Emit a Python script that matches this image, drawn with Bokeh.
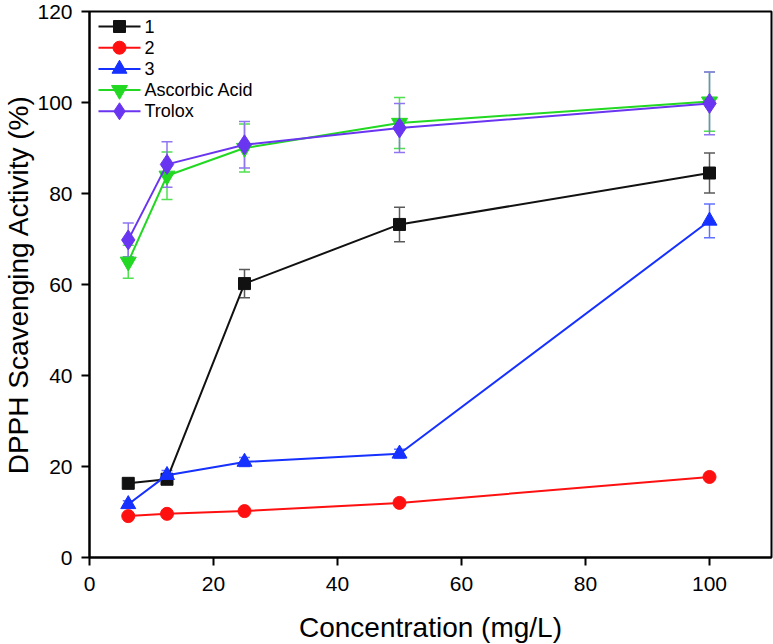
from bokeh.plotting import figure
from bokeh.models import ColumnDataSource, Whisker, TeeHead, Range1d, FixedTicker
from bokeh.core.properties import value
from bokeh.embed import file_html
from bokeh.resources import INLINE

# Concentrations (mg/L)
conc = [6.25, 12.5, 25, 50, 100]

# DPPH scavenging activity (%) with standard deviations
labels = ["1", "2", "3", "Ascorbic Acid", "Trolox"]
s1 = [16.3, 17.2, 60.2, 73.2, 84.5]
s1_err = [1.0, 1.0, 3.1, 3.8, 4.4]
s2 = [9.1, 9.6, 10.2, 12.0, 17.7]
s2_err = [0.4, 0.4, 0.4, 0.5, 0.6]
s3 = [11.7, 18.1, 21.0, 22.8, 74.0]
s3_err = [0.8, 1.0, 1.0, 1.0, 3.7]
asc = [65.0, 83.9, 90.0, 95.5, 100.2]
asc_err = [3.6, 5.2, 5.3, 5.6, 6.5]
trolox = [69.8, 86.4, 90.7, 94.4, 99.8]
trolox_err = [3.7, 5.0, 5.1, 5.4, 6.9]

x_ticks = [0, 20, 40, 60, 80, 100]
y_ticks = [0, 20, 40, 60, 80, 100, 120]

FONT = "Liberation Sans"
X_MAX, Y_MAX = 110, 120
FRAME_W, FRAME_H = 682, 546

p = figure(
    width=773, height=644,
    frame_width=FRAME_W, frame_height=FRAME_H,
    x_range=Range1d(0, X_MAX), y_range=Range1d(0, Y_MAX),
    output_backend="svg", toolbar_location=None,
    min_border_left=89, min_border_right=2,
    min_border_top=11, min_border_bottom=87,
)
p.background_fill_color = "white"
p.border_fill_color = "white"
p.xgrid.visible = False
p.ygrid.visible = False
p.outline_line_color = "black"
p.outline_line_width = 2

for ax in (p.xaxis[0], p.yaxis[0]):
    ax.axis_line_width = 2
    ax.major_tick_line_width = 2
    ax.major_tick_out = 8
    ax.major_tick_in = 0
    ax.minor_tick_line_color = None
    ax.major_label_text_font = FONT
    ax.major_label_text_font_size = "21px"
    ax.major_label_text_color = "black"
    ax.axis_label_text_font = FONT
    ax.axis_label_text_font_size = "28px"
    ax.axis_label_text_font_style = "normal"
    ax.axis_label_text_color = "black"

p.xaxis.ticker = FixedTicker(ticks=x_ticks)
p.yaxis.ticker = FixedTicker(ticks=y_ticks)
p.xaxis.axis_label = "Concentration (mg/L)"
p.yaxis.axis_label = "DPPH Scavenging Activity (%)"
p.xaxis.major_label_standoff = 11
p.yaxis.major_label_standoff = 9
p.xaxis.axis_label_standoff = 18
p.yaxis.axis_label_standoff = 0

series = [
    (s1, s1_err, "#111111", "square", 12, "#5a5a5a"),
    (s2, s2_err, "#ff1010", "circle", 13, "#ff6060"),
    (s3, s3_err, "#1530ff", "triangle", 15, "#6070ff"),
    (asc, asc_err, "#22d822", "inverted_triangle", 16, "#50e050"),
    (trolox, trolox_err, "#6a35f0", "diamond", 20, "#8f75f0"),
]

for vals, errs, color, marker, size, ecolor in series:
    src = ColumnDataSource(dict(
        x=conc, y=vals,
        upper=[v + e for v, e in zip(vals, errs)],
        lower=[v - e for v, e in zip(vals, errs)],
    ))
    w = Whisker(
        source=src, base="x", upper="upper", lower="lower",
        line_color=ecolor, line_width=1.5, level="underlay",
        upper_head=TeeHead(size=11, line_color=ecolor, line_width=1.5),
        lower_head=TeeHead(size=11, line_color=ecolor, line_width=1.5),
    )
    p.add_layout(w)
    p.line("x", "y", source=src, line_color=color, line_width=2)
    p.scatter("x", "y", source=src, marker=marker, size=size,
              fill_color=color, line_color=color)


# Legend box in the top-left corner, laid out in frame pixels
def px_to_x(px):
    return px / FRAME_W * X_MAX


def px_to_y(py):
    return Y_MAX - py / FRAME_H * Y_MAX


LEG_LEFT, LEG_GLYPH_W, LEG_TOP, LEG_ROW = 9, 42, 15, 21.2
for i, ((vals, errs, color, marker, size, ecolor), label) in enumerate(zip(series, labels)):
    yy = px_to_y(LEG_TOP + i * LEG_ROW)
    x0 = px_to_x(LEG_LEFT)
    x1 = px_to_x(LEG_LEFT + LEG_GLYPH_W)
    xm = px_to_x(LEG_LEFT + LEG_GLYPH_W / 2)
    p.segment(x0=[x0], y0=[yy], x1=[x1], y1=[yy], line_color=color, line_width=2)
    p.scatter(x=[xm], y=[yy], marker=marker, size=min(size, 17),
              fill_color=color, line_color=color)
    p.text(x=[px_to_x(LEG_LEFT + LEG_GLYPH_W + 4)], y=[yy], text=[label],
           text_font=value(FONT), text_font_size="18px", text_color="black",
           text_baseline="middle", text_align="left")

open("out.html", "w").write(file_html(p, INLINE))
